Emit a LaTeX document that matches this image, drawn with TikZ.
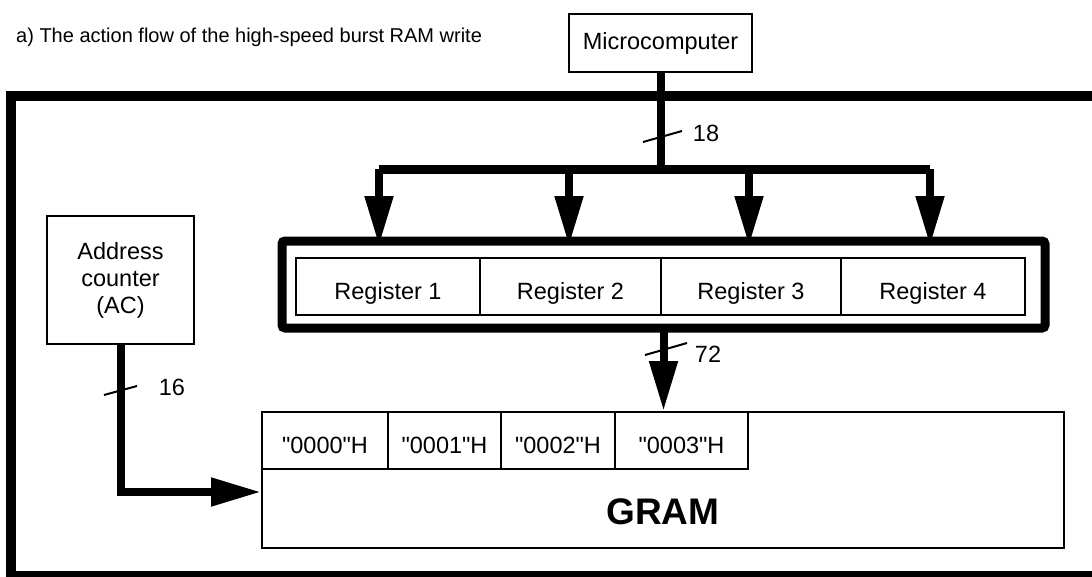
\documentclass[tikz,border=0pt]{standalone}
\usepackage{fontspec}
\setmainfont{Liberation Sans}
\usetikzlibrary{arrows.meta}

\begin{document}
\begin{tikzpicture}[x=1pt,y=-1pt,
    txt/.style={font=\fontsize{23.5}{27}\selectfont},
    box/.style={txt,draw,line width=2pt,inner sep=0pt},
    cell/.style={box,text height=26pt,text depth=0pt,minimum height=57pt},
    bus/.style={line width=9pt},
    busarrow/.style={line width=8pt,-{Triangle[length=50pt,width=27pt]}},
    tick/.style={line width=2pt}]
    \useasboundingbox (0,0) rectangle (1092,576);
    \begin{scope}
        \clip (0,0) rectangle (1092,576);
        \draw[line width=10pt] (1200,96) -- (11,96) -- (11,576) -- (1200,576);
    \end{scope}
    \node[anchor=base west,inner sep=0pt,font=\fontsize{20}{24}\selectfont] (title) at (16,42)
        {a) The action flow of the high-speed burst RAM write};
    \node[box,minimum width=183pt,minimum height=58pt] (mcu) at (660.5,43) {Microcomputer};
    \node[box,align=center,minimum width=147pt,minimum height=128pt] (ac) at (120.5,280)
        {Address\\counter\\(AC)};
    % registers
    \node[draw,line width=9pt,rounded corners=3pt,outer sep=0pt,
        minimum width=763pt,minimum height=87pt] (regs) at (663.5,284.5) {};
    \node[cell,minimum width=184pt] (reg1) at (388,286.5) {Register 1};
    \node[cell,minimum width=181pt] (reg2) at (570.5,286.5) {Register 2};
    \node[cell,minimum width=180pt] (reg3) at (751,286.5) {Register 3};
    \node[cell,minimum width=184pt] (reg4) at (933,286.5) {Register 4};
    % GRAM
    \node[box,minimum width=802pt,minimum height=136pt] (gram) at (663,480) {};
    \node[anchor=base,font=\bfseries\fontsize{37}{40}\selectfont] (gramtxt)
        at ([yshift=-44pt]gram.center) {GRAM};
    \node[cell,minimum width=126pt] (a0) at (325,440.5) {\textquotedbl 0000\textquotedbl H};
    \node[cell,minimum width=113pt] (a1) at (444.5,440.5) {\textquotedbl 0001\textquotedbl H};
    \node[cell,minimum width=114pt] (a2) at (558,440.5) {\textquotedbl 0002\textquotedbl H};
    \node[cell,minimum width=133pt] (a3) at (681.5,440.5) {\textquotedbl 0003\textquotedbl H};
    % bus
    \coordinate (b1) at (379,169);
    \coordinate (b2) at (569,169);
    \coordinate (b3) at (749,169);
    \coordinate (b4) at (930,169);
    \draw[line width=8pt] (mcu.south) -- (mcu.south |- b1);
    \draw[bus] (b1) -- (b4);
    \foreach \i in {1,...,4}
        \draw[busarrow,shorten >=-5pt] (b\i) -- (b\i |- regs.north);
    \draw[busarrow] (regs.south) -- (regs.south |- gram.north);
    \draw[busarrow] (ac.south) |- ([yshift=-12pt]gram.west);
    % bus widths
    \draw[tick] (643,142) -- (682,131);
    \node[txt] (n18) at (706,133) {18};
    \draw[tick] (645,355) -- (687,343);
    \node[txt] (n72) at (708,354) {72};
    \draw[tick] (104,395) -- (137,386);
    \node[txt] (n16) at (172,387) {16};
\end{tikzpicture}
\end{document}
